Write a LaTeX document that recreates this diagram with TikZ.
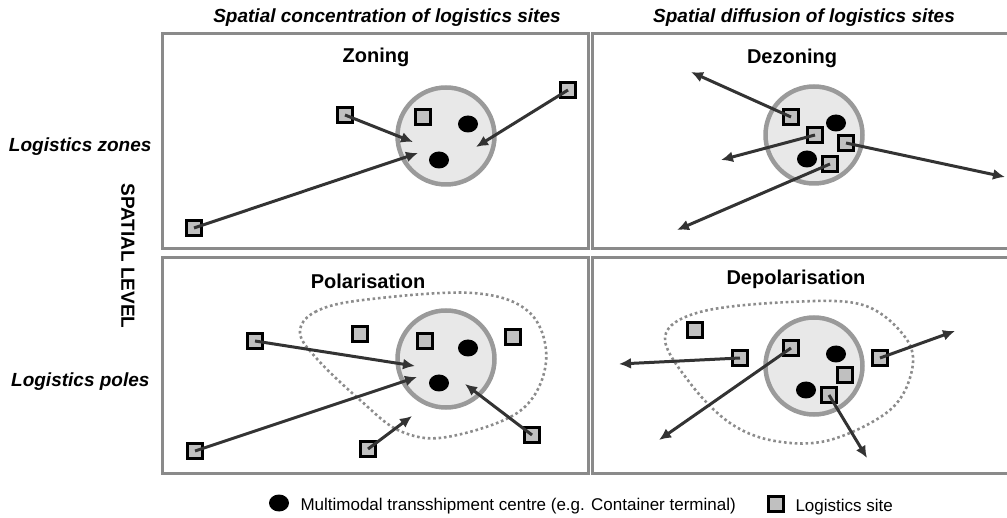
\documentclass[tikz,border=0pt]{standalone}
\usepackage{fontspec}
\setmainfont{Liberation Sans}
\usetikzlibrary{arrows.meta,shapes.geometric}

\definecolor{framegray}{HTML}{8A8A8A}
\definecolor{zonegray}{HTML}{9A9A9A}
\definecolor{zonefill}{HTML}{E8E8E8}
\definecolor{sitegray}{HTML}{C0C0C0}
\definecolor{flowgray}{HTML}{333333}
\definecolor{dotgray}{HTML}{8C8C8C}

\begin{document}
\begin{tikzpicture}[x=1pt,y=-1pt,
    panel/.style={draw=framegray,line width=3pt},
    zone/.style={circle,draw=zonegray,fill=zonefill,line width=4.5pt,minimum size=97pt,inner sep=0pt},
    hub/.style={ellipse,fill=black,minimum width=20pt,minimum height=17pt,inner sep=0pt},
    site/.style={draw=black,fill=sitegray,line width=3pt,minimum size=15pt,inner sep=0pt},
    flow/.style={draw=flowgray,line width=3pt,-{Latex[length=12pt,width=11pt]}},
    area/.style={draw=dotgray,line width=2.6pt,dash pattern=on 2.6pt off 2.8pt},
    title/.style={font=\fontsize{20}{24}\selectfont\bfseries,anchor=base},
    head/.style={font=\fontsize{19}{23}\selectfont\bfseries\itshape,anchor=base},
    legend/.style={font=\fontsize{17}{20}\selectfont,anchor=base west}]

    \useasboundingbox (0,0) rectangle (1007,518);

    % Column and row headings
    \node[head] (hconc) at (387,23) {Spatial concentration of logistics sites};
    \node[head] (hdiff) at (804,23) {Spatial diffusion of logistics sites};
    \node[head,anchor=base east] (hzones) at (155,152) {Logistics zones};
    \node[head,anchor=base east] (hpoles) at (153,387) {Logistics poles};
    \node[font=\fontsize{19}{23}\selectfont\bfseries,rotate=-90] (hlevel) at (128,256) {SPATIAL LEVEL};

    % Panels
    \draw[panel] (162,34) rectangle (588,249);
    \draw[panel] (592,34) rectangle (1010,249);
    \draw[panel] (162,258) rectangle (588,473);
    \draw[panel] (592,258) rectangle (1010,473);

    % Pole outlines
    \draw[area] plot[smooth cycle,tension=0.6] coordinates {(300,333) (315,312) (363,300) (473,293)
      (530,313) (546,362) (520,411) (447,437) (400,431) (360,400) (318,360)};
    \draw[area] plot[smooth cycle,tension=0.6] coordinates {(665,337) (700,312) (790,302) (863,305)
      (905,337) (912,370) (890,410) (830,440) (775,441) (730,423) (690,383)};

    % Zoning
    \node[title] (tzon) at (376,63) {Zoning};
    \node[zone] (zon) at (446,136) {};
    \node[hub] (zonh1) at (468,124) {};
    \node[hub] (zonh2) at (439,160) {};
    \foreach \n/\x/\y in {1/423/117, 2/345/115, 3/568/90, 4/194/228}
      \node[site] (zons\n) at (\x,\y) {};
    \foreach \n/\x/\y in {2/413/142, 3/476/147, 4/418/153} {
      \coordinate (zont\n) at (\x,\y);
      \draw[flow] (zons\n.center) -- (zont\n);
    }

    % Dezoning
    \node[title] (tdez) at (792,64) {Dezoning};
    \node[zone] (dez) at (814,135) {};
    \node[hub] (dezh1) at (836,123) {};
    \node[hub] (dezh2) at (807,159) {};
    \foreach \n/\x/\y in {1/791/117, 2/815/135, 3/846/143, 4/830/164}
      \node[site] (dezs\n) at (\x,\y) {};
    \foreach \n/\x/\y in {1/691/72, 2/721/160, 3/1005/177, 4/677/230} {
      \coordinate (dezt\n) at (\x,\y);
      \draw[flow] (dezs\n.center) -- (dezt\n);
    }

    % Polarisation
    \node[title] (tpol) at (368,289) {Polarisation};
    \node[zone] (pol) at (446,359) {};
    \node[hub] (polh1) at (468,348) {};
    \node[hub] (polh2) at (439,383) {};
    \foreach \n/\x/\y in {1/425/341, 2/360/334, 3/513/337, 4/255/341, 5/195/451, 6/368/449, 7/532/435}
      \node[site] (pols\n) at (\x,\y) {};
    \foreach \n/\x/\y in {4/415/366, 5/417/377, 6/412/416, 7/465/384} {
      \coordinate (polt\n) at (\x,\y);
      \draw[flow] (pols\n.center) -- (polt\n);
    }

    % Depolarisation
    \node[title] (tdep) at (796,285) {Depolarisation};
    \node[zone] (dep) at (814,366) {};
    \node[hub] (deph1) at (836,354) {};
    \node[hub] (deph2) at (806,390) {};
    \foreach \n/\x/\y in {1/695/330, 2/740/358, 3/791/348, 4/845/375, 5/829/395, 6/880/358}
      \node[site] (deps\n) at (\x,\y) {};
    \foreach \n/\x/\y in {2/619/364, 3/659/440, 6/955/331, 5/867/458} {
      \coordinate (dept\n) at (\x,\y);
      \draw[flow] (deps\n.center) -- (dept\n);
    }

    % Legend
    \node[hub] (lhub) at (279,503) {};
    \node[legend] (lhubtxt) at (297,510) {Multimodal transshipment centre (e.g. Container terminal)};
    \node[site] (lsite) at (776,504) {};
    \node[legend] (lsitetxt) at (792,511) {Logistics site};

  \end{tikzpicture}
\end{document}
